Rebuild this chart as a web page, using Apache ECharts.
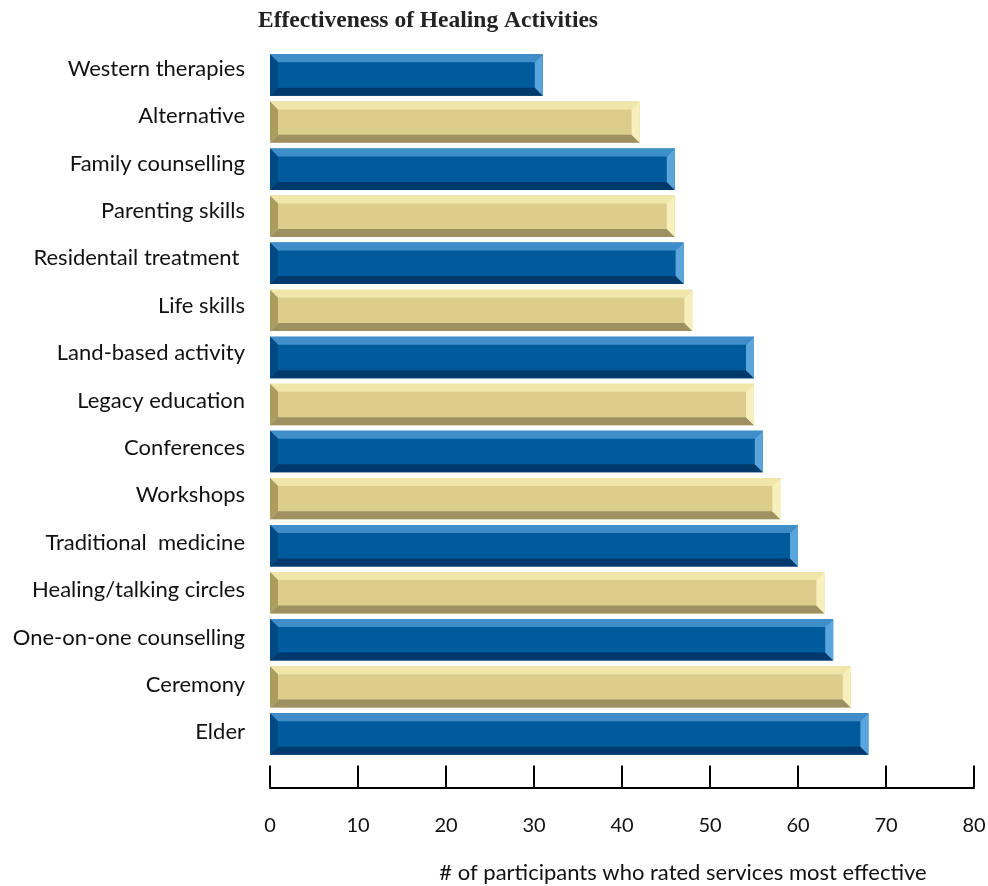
<!DOCTYPE html>
<html>
<head>
<meta charset="utf-8">
<script src="https://cdn.jsdelivr.net/npm/echarts@6/dist/echarts.min.js"></script>
<style>html,body{margin:0;padding:0;background:#fff;}#c{width:988px;height:886px;}</style>
</head>
<body>
<div id="c"></div>
<script>
var categories = ["Western therapies","Alternative","Family counselling","Parenting skills","Residentail treatment ","Life skills","Land-based activity","Legacy education","Conferences","Workshops","Traditional  medicine","Healing/talking circles","One-on-one counselling","Ceremony","Elder"];
var values = [31,42,46,46,47,48,55,55,56,58,60,63,64,66,68];
var xTicks = [0,10,20,30,40,50,60,70,80];

var palettes = {
  blue: {face:'#005b9c', top:'#3f8dc9', left:'#004a84', right:'#5aa5dc', bottom:'#00396b'},
  tan:  {face:'#dccd8c', top:'#f1e6aa', left:'#ac9d5f', right:'#f8f0bc', bottom:'#9f9062'}
};

var chart = echarts.init(document.getElementById('c'));
chart.setOption({
  animation:false,
  title:{text:'Effectiveness of Healing Activities', left:253, top:4,
    textStyle:{fontFamily:'Liberation Serif', fontWeight:'bold', fontSize:23.5, color:'#222'}},
  grid:[
    {left:270, right:14, top:51.5, bottom:128.5, containLabel:false, outerBoundsMode:'none'},
    {left:270, right:14, top:45, bottom:130, containLabel:false, outerBoundsMode:'none'}
  ],
  xAxis:[{type:'value', gridIndex:0, min:0, max:80, interval:10, offset:30,
    axisLine:{show:true, lineStyle:{color:'#000', width:2}},
    axisTick:{show:true, inside:true, length:22, lineStyle:{color:'#000', width:2}},
    splitLine:{show:false},
    axisLabel:{margin:28, fontFamily:'Lato', fontSize:20, color:'#111',
      formatter:function(v){return xTicks.indexOf(v)>=0?String(v):'';}},
    name:'# of participants who rated services most effective', nameLocation:'middle', nameGap:74,
    nameTextStyle:{fontFamily:'Lato', fontSize:22, color:'#111', padding:[0,0,0,122]}
  },{type:'value', gridIndex:1, min:0, max:80, show:false}],
  yAxis:[{type:'category', gridIndex:0, data:categories, inverse:true,
    axisLine:{show:false}, axisTick:{show:false}, axisLabel:{show:false}},
   {type:'category', gridIndex:1, data:categories, inverse:true,
    axisLine:{show:false}, axisTick:{show:false}, splitLine:{show:false},
    axisLabel:{margin:25, fontFamily:'Lato', fontSize:22, color:'#111'}}],
  series:[{
    type:'custom',
    xAxisIndex:0, yAxisIndex:0,
    data:values.map(function(v,i){return [v,i];}),
    encode:{x:0,y:1},
    renderItem:function(params, api){
      var v = api.value(0), idx = api.value(1);
      var p0 = api.coord([0, idx]);
      var p1 = api.coord([v, idx]);
      var band = api.size([0,1])[1];
      var h = band*0.88;
      var x0 = p0[0], x1 = p1[0], y0 = p0[1]-h/2, y1 = p0[1]+h/2;
      var b = 8;
      var pal = idx%2===0 ? palettes.blue : palettes.tan;
      function poly(pts, c){return {type:'polygon', shape:{points:pts}, style:{fill:c}};}
      return {type:'group', children:[
        {type:'rect', shape:{x:x0,y:y0,width:x1-x0,height:h}, style:{fill:pal.face}},
        poly([[x0,y0],[x1,y0],[x1-b,y0+b],[x0+b,y0+b]], pal.top),
        poly([[x0,y1],[x1,y1],[x1-b,y1-b],[x0+b,y1-b]], pal.bottom),
        poly([[x0,y0],[x0+b,y0+b],[x0+b,y1-b],[x0,y1]], pal.left),
        poly([[x1,y0],[x1-b,y0+b],[x1-b,y1-b],[x1,y1]], pal.right)
      ]};
    }
  }]
});
</script>
</body>
</html>
